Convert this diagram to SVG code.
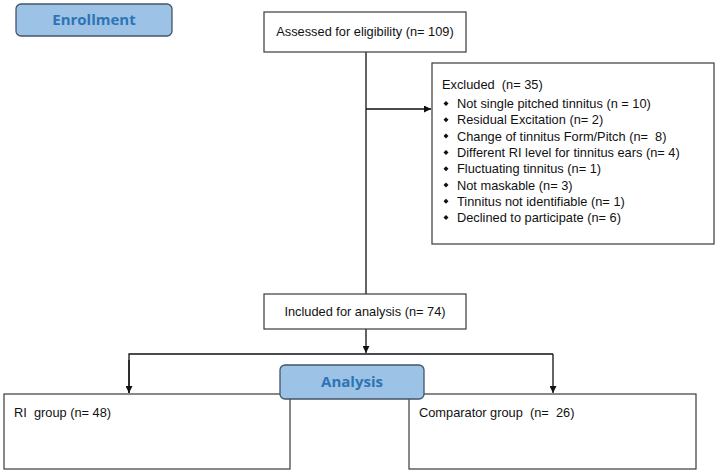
<svg xmlns="http://www.w3.org/2000/svg" width="718" height="473" viewBox="0 0 718 473">
<defs>
<style>
.box{fill:#ffffff;stroke:#3a3a3a;stroke-width:1.2}
.hdr{fill:#9cc2e5;stroke:#44546a;stroke-width:1.3}
.t{font-family:"Liberation Sans",Arial,sans-serif;font-size:12.8px;fill:#111;white-space:pre}
.h{font-family:"Open Sans","Liberation Sans",sans-serif;font-weight:bold;font-size:15px;fill:#2e74b5;text-anchor:middle}
.c{fill:none;stroke:#111;stroke-width:1.3}
.b{fill:#111}
</style>
<marker id="ah" viewBox="0 0 10 10" refX="10" refY="5" markerWidth="7" markerHeight="7" markerUnits="userSpaceOnUse" orient="auto">
<path d="M0,0 L10,5 L0,10 z" fill="#111"/>
</marker>
</defs>
<rect width="718" height="473" fill="#ffffff"/>
<g id="connectors">
<line class="c" x1="366" y1="52" x2="366" y2="294"/>
<line class="c" x1="366" y1="109" x2="431" y2="109" marker-end="url(#ah)"/>
<line class="c" x1="366" y1="329" x2="366" y2="353" marker-end="url(#ah)"/>
<polyline class="c" points="129,393 129,354 553,354"/>
<line class="c" x1="129" y1="360" x2="129" y2="393" marker-end="url(#ah)"/>
<line class="c" x1="553" y1="354" x2="553" y2="393" marker-end="url(#ah)"/>
</g>
<g id="enrollment">
<rect class="hdr" x="16" y="4" width="156" height="32" rx="5"/>
<text class="h" x="94" y="25">Enrollment</text>
</g>
<g id="assessed">
<rect class="box" x="264" y="12" width="202" height="40"/>
<text class="t" x="365" y="36" text-anchor="middle">Assessed for eligibility (n= 109)</text>
</g>
<g id="excluded">
<rect class="box" x="432" y="63" width="282" height="181"/>
<text class="t" x="442" y="89" xml:space="preserve">Excluded  (n= 35)</text>
<g class="b">
<path d="M446,101 l2.5,2.5 l-2.5,2.5 l-2.5,-2.5 z"/>
<path d="M446,117.3 l2.5,2.5 l-2.5,2.5 l-2.5,-2.5 z"/>
<path d="M446,133.6 l2.5,2.5 l-2.5,2.5 l-2.5,-2.5 z"/>
<path d="M446,149.9 l2.5,2.5 l-2.5,2.5 l-2.5,-2.5 z"/>
<path d="M446,166.2 l2.5,2.5 l-2.5,2.5 l-2.5,-2.5 z"/>
<path d="M446,182.5 l2.5,2.5 l-2.5,2.5 l-2.5,-2.5 z"/>
<path d="M446,198.8 l2.5,2.5 l-2.5,2.5 l-2.5,-2.5 z"/>
<path d="M446,215.1 l2.5,2.5 l-2.5,2.5 l-2.5,-2.5 z"/>
</g>
<text class="t" x="457" y="108">Not single pitched tinnitus (n = 10)</text>
<text class="t" x="457" y="124.3">Residual Excitation (n= 2)</text>
<text class="t" x="457" y="140.6" xml:space="preserve">Change of tinnitus Form/Pitch (n=  8)</text>
<text class="t" x="457" y="156.9">Different RI level for tinnitus ears (n= 4)</text>
<text class="t" x="457" y="173.2">Fluctuating tinnitus (n= 1)</text>
<text class="t" x="457" y="189.5">Not maskable (n= 3)</text>
<text class="t" x="457" y="205.8">Tinnitus not identifiable (n= 1)</text>
<text class="t" x="457" y="222.1">Declined to participate (n= 6)</text>
</g>
<g id="included">
<rect class="box" x="264" y="294" width="202" height="35"/>
<text class="t" x="365" y="316" text-anchor="middle">Included for analysis (n= 74)</text>
</g>
<g id="ri-group">
<rect class="box" x="4" y="394" width="286" height="75"/>
<text class="t" x="14" y="417" xml:space="preserve">RI  group (n= 48)</text>
</g>
<g id="comparator-group">
<rect class="box" x="409" y="394" width="287" height="75"/>
<text class="t" x="419" y="417" xml:space="preserve">Comparator group  (n=  26)</text>
</g>
<g id="analysis">
<rect class="hdr" x="280" y="365" width="144" height="34" rx="5"/>
<text class="h" x="352" y="387">Analysis</text>
</g>
</svg>
